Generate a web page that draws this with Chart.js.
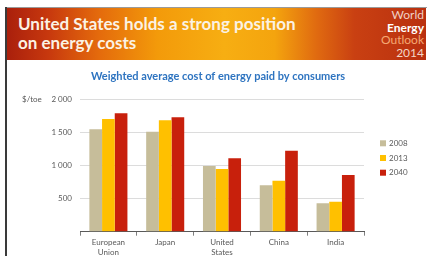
<!DOCTYPE html>
<html lang="en">
<head>
<meta charset="utf-8">
<script src="https://cdn.jsdelivr.net/npm/chart.js@4"></script>
<style>
  html, body { margin: 0; padding: 0; background: #fff; }
  body { width: 427px; height: 256px; position: relative; overflow: hidden; font-family: Lato, "Open Sans", sans-serif; }
  #topline { position: absolute; left: 5px; top: 7px; width: 422px; height: 1px; background: #9a9a9a; }
  #border { position: absolute; left: 5px; top: 7px; width: 1.5px; height: 249px; background: #3a3a3a; }
  #banner {
    position: absolute; left: 6px; top: 8px; width: 420px; height: 52px;
    background: linear-gradient(90deg, #a91f0c 0%, #c7380e 10%, #e46a0c 22%, #f39a0a 36%, #f7ae12 52%, #f4a40e 64%, #e06a10 74%, #c94012 83%, #b9300f 100%);
  }
  #headline { position: absolute; left: 12px; top: 6px; color: #fbf2e4; font-weight: bold; font-size: 17px; line-height: 19px; }
  #weo { position: absolute; right: 2px; top: 1px; text-align: right; font-size: 12px; line-height: 12.5px; }
  #weo .w { color: #f0d0c4; }
  #weo .e { color: #ffffff; font-weight: bold; }
  #weo .o { color: #f5a873; }
  #weo .y { color: #f3d6c6; }
  #chart { position: absolute; left: 7px; top: 60px; }
</style>
</head>
<body>
<div id="topline"></div>
<div id="banner">
  <div id="headline">United States holds a strong position<br>on energy costs</div>
  <div id="weo"><span class="w">World</span><br><span class="e">Energy</span><br><span class="o">Outlook</span><br><span class="y">2014</span></div>
</div>
<div id="border"></div>
<canvas id="chart" width="420" height="196"></canvas>
<script>
// data
const categories = [['European', 'Union'], 'Japan', ['United', 'States'], 'China', 'India'];
const seriesNames = ['2008', '2013', '2040'];
const values2008 = [1547, 1510, 992, 701, 429];
const values2013 = [1702, 1683, 947, 770, 453];
const values2040 = [1788, 1728, 1109, 1224, 856];
const seriesColors = ['#c6bd9a', '#ffc000', '#c8200c'];
const yTicks = [0, 500, 1000, 1500, 2000];
const yTickLabels = ['', '500', '1 000', '1 500', '2 000'];

const chartTitle = 'Weighted average cost of energy paid by consumers';
const unitLabel = '$/toe';

const FONT = 'Lato, "Open Sans", sans-serif';

// title, unit and legend drawn by hand so they sit where the slide has them
const extras = {
  id: 'extras',
  afterDraw(chart) {
    const ctx = chart.ctx;
    const area = chart.chartArea;
    ctx.save();
    ctx.font = 'bold 11px ' + FONT;
    ctx.fillStyle = '#2e74c0';
    ctx.textAlign = 'center';
    ctx.textBaseline = 'middle';
    ctx.fillText(chartTitle, 211, 16.7);

    ctx.font = '8px ' + FONT;
    ctx.fillStyle = '#595959';
    ctx.textAlign = 'left';
    ctx.fillText(unitLabel, 15, area.top);

    chart.data.datasets.forEach((ds, i) => {
      const y = 83.3 + i * 14.7;
      ctx.fillStyle = ds.backgroundColor;
      ctx.fillRect(373, y - 3, 6, 6);
      ctx.fillStyle = '#595959';
      ctx.fillText(ds.label, 382, y);
    });
    ctx.restore();
  }
};

new Chart(document.getElementById('chart'), {
  type: 'bar',
  data: {
    labels: categories,
    datasets: [values2008, values2013, values2040].map((vals, i) => ({
      label: seriesNames[i],
      data: vals,
      backgroundColor: seriesColors[i],
      borderWidth: 0,
      categoryPercentage: 0.67,
      barPercentage: 1.0
    }))
  },
  options: {
    responsive: false,
    devicePixelRatio: 1,
    animation: false,
    layout: { padding: { top: 39.3, left: 23, right: 63, bottom: 0 } },
    plugins: {
      legend: { display: false },
      title: { display: false },
      tooltip: { enabled: false }
    },
    scales: {
      x: {
        grid: { drawOnChartArea: false, drawTicks: true, tickLength: 4, color: '#7f7f7f' },
        border: { color: '#595959', width: 1 },
        ticks: { color: '#595959', font: { family: FONT, size: 8 }, padding: 2, maxRotation: 0 },
        afterFit(scale) { scale.height = 24.3; }
      },
      y: {
        min: 0,
        max: 2000,
        afterBuildTicks(scale) { scale.ticks = yTicks.map(v => ({ value: v })); },
        grid: { color: '#dcdcdc', drawTicks: false },
        border: { display: false },
        ticks: {
          color: '#595959',
          font: { family: FONT, size: 8 },
          padding: 8,
          callback: (v) => yTickLabels[yTicks.indexOf(v)]
        },
        afterFit(scale) { scale.width = 50; }
      }
    }
  },
  plugins: [extras]
});
</script>
</body>
</html>
